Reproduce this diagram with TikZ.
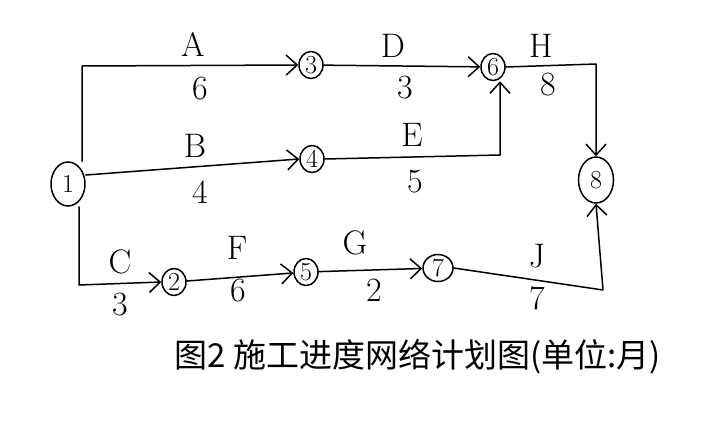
\documentclass[tikz,border=0pt]{standalone}
\usepackage{fontspec}
\newfontfamily\cjk{Noto Sans CJK SC}
\usetikzlibrary{arrows.meta,shapes.geometric}
\begin{document}
\begin{tikzpicture}[x=1pt,y=-1pt,line width=1.5pt,line cap=round,line join=round,
  ev/.style={draw,ellipse,inner sep=0pt,minimum width=24pt,minimum height=27pt,font=\fontsize{26}{26}\selectfont},
  act/.style={-{Straight Barb[length=11pt,width=20pt,line width=1.5pt]}},
  lbl/.style={font=\fontsize{34}{34}\selectfont}]
\useasboundingbox (0,0) rectangle (720,442);
\fill[white] (0,0) rectangle (720,442);
% events
\node[ev,minimum width=34pt,minimum height=44pt] (n1) at (68,184) {1};
\node[ev] (n2) at (174,282) {2};
\node[ev] (n3) at (311,65) {3};
\node[ev] (n4) at (312,159) {4};
\node[ev] (n5) at (306,272) {5};
\node[ev] (n6) at (493,67) {6};
\node[ev,minimum width=30pt] (n7) at (438,268) {7};
\node[ev,minimum width=35pt,minimum height=46pt] (n8) at (596,180) {8};
% corners
\coordinate (ca) at (82,66);
\coordinate (cc) at (79,285);
\coordinate (ce) at (500,155);
\coordinate (ch) at (596,64);
\coordinate (cj) at (603,290);
% activities
\draw[act] (n1.north -| ca) -- (ca) -- (n3.west);
\draw[act] (n3) -- (n6);
\draw[act] (n6.east) -- (ch) -- (n8.north);
\draw[act] (n1.east |- 0,175) -- (n4.west);
\draw[act] (n4.east) -- (ce) -- (n6.south -| ce);
\draw[act] (n1.south -| cc) -- (cc) -- (n2.west);
\draw[act] (n2) -- (n5);
\draw[act] (n5) -- (n7);
\draw[act] (n7.east) -- (cj) -- (n8.south);
% labels
\node[lbl] (lA) at (193,44) {A};
\node[lbl] (l6a) at (200,89) {6};
\node[lbl] (lD) at (393,46) {D};
\node[lbl] (l3d) at (405,88) {3};
\node[lbl] (lH) at (541,46) {H};
\node[lbl] (l8h) at (548,85) {8};
\node[lbl] (lB) at (195,146) {B};
\node[lbl] (l4b) at (200,192) {4};
\node[lbl] (lE) at (412,135) {E};
\node[lbl] (l5e) at (415,182) {5};
\node[lbl] (lC) at (120,262) {C};
\node[lbl] (l3c) at (120,305) {3};
\node[lbl] (lF) at (237,248) {F};
\node[lbl] (l6f) at (238,291) {6};
\node[lbl] (lG) at (355,243) {G};
\node[lbl] (l2g) at (374,290) {2};
\node[lbl] (lJ) at (537,256) {J};
\node[lbl] (l7j) at (537,298) {7};
% caption
\node[font=\cjk\fontsize{33}{33}\selectfont] (cap) at (418,357) {图2 施工进度网络计划图(单位:月)};
\end{tikzpicture}
\end{document}
